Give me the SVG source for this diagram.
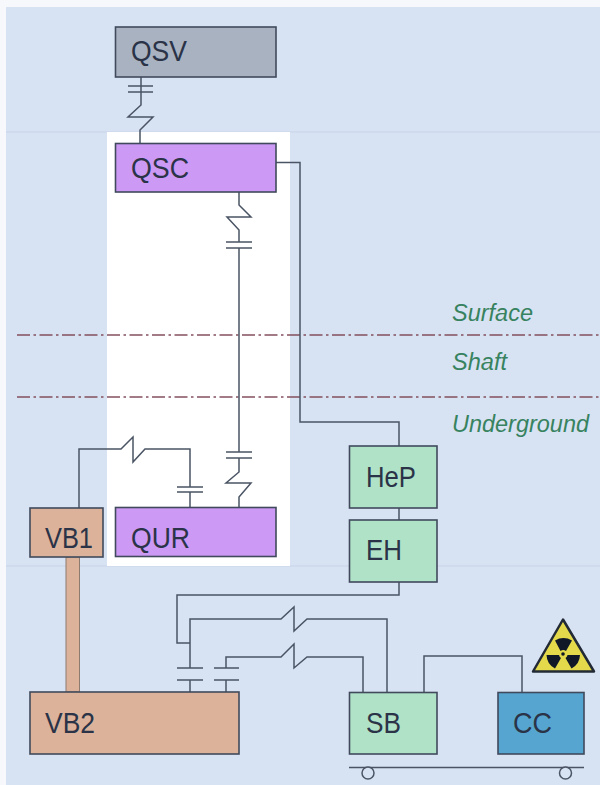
<svg xmlns="http://www.w3.org/2000/svg" width="600" height="785" viewBox="0 0 600 785">
<style>
.n{stroke:#404a5c;stroke-width:1.6}
.t{font-family:"Liberation Sans",Arial,sans-serif;font-size:30px;fill:#2a3347}
.z{font-family:"Liberation Sans",Arial,sans-serif;font-size:24.500px;font-style:italic;fill:#37835f}
.c{fill:none;stroke:#4a5464;stroke-width:1.5}
.d{fill:none;stroke:#84505f;stroke-width:1.3;stroke-dasharray:13 3.500 2.500 3.500}
</style>
<rect width="600" height="785" fill="#f6f8fb"/>
<rect x="6" y="7" width="594" height="778" fill="#d7e2f3"/>
<path d="M6 132H600M6 566H600" stroke="#c9d3e8" stroke-width="1" fill="none"/>
<rect x="107" y="132" width="183" height="434" fill="#fff"/>
<g id="zones">
<path class="d" d="M17 335H600M17 397H600"/>
<text class="z" x="452" y="321" textLength="81" lengthAdjust="spacingAndGlyphs">Surface</text>
<text class="z" x="452" y="370" textLength="55" lengthAdjust="spacingAndGlyphs">Shaft</text>
<text class="z" x="452" y="432" textLength="137" lengthAdjust="spacingAndGlyphs">Underground</text>
</g>
<g id="connectors">
<path class="c" d="M141 77V105L128 117H153L140 130V143.500"/>
<path class="c" d="M128 86H153M128 92H153"/>
<path class="c" d="M239 192V205L251 217H227L239 230V242"/>
<path class="c" d="M226 242H252M226 248H252"/>
<path class="c" d="M276 162.500H300V422H399V446"/>
<path class="c" d="M239 248V452M226 452H252M226 458H252M239 458V472L226 483H251L239 497V507.500"/>
<path class="c" d="M79 508V449H121L133 437V462L145 449H190V487M177 487H203M177 492H203M190 492V507.500"/>
<path class="c" d="M399 508V520M399 582V595H177V643H190"/>
<path class="c" d="M190 668V619H281L294 607V631L307 619H387V692.500"/>
<path class="c" d="M226 668V657H281L294 644V668L307 657H363V692.500"/>
<path class="c" d="M177 668H203M177 680H203M190 680V692M214 668H239M214 680H239M226 680V692"/>
<path class="c" d="M424 692.500V656H522V692.500"/>
</g>
<g id="VB1-VB2"><rect x="66" y="557" width="13.500" height="135" fill="#dcb29a" stroke="#8f7a70" stroke-width="1"/></g>
<g id="QSV"><rect class="n" x="115.500" y="27" width="160.500" height="50" fill="#a8b2c1"/><text class="t" x="131" y="61" textLength="56" lengthAdjust="spacingAndGlyphs">QSV</text></g>
<g id="QSC"><rect class="n" x="115.500" y="143.500" width="160.500" height="48.500" fill="#cc99f5"/><text class="t" x="131" y="178" textLength="58" lengthAdjust="spacingAndGlyphs">QSC</text></g>
<g id="QUR"><rect class="n" x="115.500" y="507.500" width="160.500" height="49" fill="#cc99f5"/><text class="t" x="131" y="548" textLength="59" lengthAdjust="spacingAndGlyphs">QUR</text></g>
<g id="VB1"><rect class="n" x="30" y="508" width="73" height="49" fill="#dcb29a"/><text class="t" x="45" y="548" textLength="48" lengthAdjust="spacingAndGlyphs">VB1</text></g>
<g id="VB2"><rect class="n" x="30" y="692" width="209" height="62" fill="#dcb29a"/><text class="t" x="45" y="733" textLength="50" lengthAdjust="spacingAndGlyphs">VB2</text></g>
<g id="HeP"><rect class="n" x="349.500" y="446" width="87.500" height="62" fill="#b0e2c8"/><text class="t" x="366" y="487" textLength="50" lengthAdjust="spacingAndGlyphs">HeP</text></g>
<g id="EH"><rect class="n" x="349.500" y="520" width="87.500" height="62" fill="#b0e2c8"/><text class="t" x="366" y="560" textLength="36" lengthAdjust="spacingAndGlyphs">EH</text></g>
<g id="SB"><rect class="n" x="349.500" y="692.500" width="87.500" height="61.500" fill="#b0e2c8"/><text class="t" x="366" y="733" textLength="35" lengthAdjust="spacingAndGlyphs">SB</text></g>
<g id="CC"><rect class="n" x="498" y="692.500" width="86" height="61.500" fill="#55a5d0"/><text class="t" x="513" y="733" textLength="39" lengthAdjust="spacingAndGlyphs">CC</text></g>
<g id="cart">
<path class="c" d="M349 767.500H584"/>
<circle cx="368" cy="773" r="6" fill="#d7e2f3" stroke="#4a5464" stroke-width="1.500"/>
<circle cx="565.500" cy="773" r="6" fill="#d7e2f3" stroke="#4a5464" stroke-width="1.500"/>
</g>
<g id="radiation">
<path d="M563 619.500L594 671.500H533Z" fill="#e3d94a" stroke="#222a36" stroke-width="2.500" stroke-linejoin="round"/>
<path d="M555 640.500A17 17 0 0 1 572 640.500L566 651A5 5 0 0 0 560.500 651Z" fill="#101828"/>
<path d="M546.500 655H559A4.500 4.500 0 0 0 561 658L555 668.500A16 16 0 0 1 546.500 655Z" fill="#101828"/>
<path d="M580 655H567.500A4.500 4.500 0 0 1 565.500 658L571.500 668.500A16 16 0 0 0 580 655Z" fill="#101828"/>
<circle cx="563" cy="654" r="1.800" fill="#101828"/>
</g>
</svg>
